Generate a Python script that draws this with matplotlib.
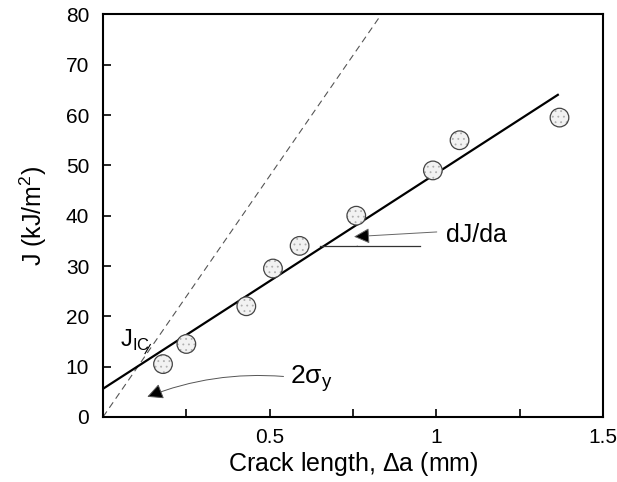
import numpy as np
import matplotlib
matplotlib.use('Agg')
import matplotlib.pyplot as plt
from matplotlib.patches import Arc

plt.rcParams['font.family'] = ['Liberation Sans', 'DejaVu Sans']
plt.rcParams['hatch.linewidth'] = 0.6

# measured J-R points
crack = [0.18, 0.25, 0.43, 0.51, 0.59, 0.76, 0.99, 1.07, 1.37]
J = [10.5, 14.5, 22.0, 29.5, 34.0, 40.0, 49.0, 55.0, 59.5]

# resistance curve fit and blunting line
fit_intercept = 5.6
fit_slope = 42.8
fit_end = 1.365
blunt_slope = 95.8

fig = plt.figure(figsize=(6.17, 4.82), dpi=100)
ax = fig.add_axes([0.167, 0.135, 0.81, 0.835])

xb = np.array([0, 80 / blunt_slope])
ax.plot(xb, blunt_slope * xb, color='#555555', lw=0.8, dashes=(6, 4))

xf = np.array([0, fit_end])
ax.plot(xf, fit_intercept + fit_slope * xf, '-', color='black', lw=1.6)

# stippled circles: light dotted fill, then a dark outline on top
ax.scatter(crack, J, s=180, facecolor='#f2f2f2', edgecolor='#b0b0b0',
           linewidth=0, hatch='...', zorder=3)
ax.scatter(crack, J, s=180, facecolor='none', edgecolor='#444444',
           linewidth=0.9, zorder=4)

# 2 sigma_y arc at the origin
ax.add_patch(Arc((0, 0), 0.22, 14.8, theta1=0, theta2=55, color='#444444', lw=0.7))
ax.annotate('', xy=(0.125, 3.8), xytext=(0.55, 8.0),
            arrowprops=dict(arrowstyle='-|>,head_length=0.6,head_width=0.3',
                            fc='black', ec='#555555', lw=0.7,
                            mutation_scale=16,
                            connectionstyle='arc3,rad=0.12'))
ax.text(0.56, 7.6, r'2$\mathregular{\sigma_y}$', fontsize=19, va='center', ha='left')

# J_IC label
ax.text(0.05, 15.2, r'J$_\mathregular{IC}$', fontsize=17, va='center', ha='left')
ax.plot([0.126, 0.142], [12.6, 14.4], color='black', lw=0.8)

# dJ/da slope marker
ax.plot([0.65, 0.95], [34.0, 34.0], color='#333333', lw=0.9)
ax.add_patch(Arc((0.663, 34.0), 0.2, 7.2, theta1=0, theta2=30, color='#333333', lw=0.7))
ax.annotate('', xy=(0.745, 35.8), xytext=(1.01, 36.8),
            arrowprops=dict(arrowstyle='-|>,head_length=0.6,head_width=0.3',
                            fc='black', ec='#666666', lw=0.7,
                            mutation_scale=16))
ax.text(1.03, 36.2, 'dJ/da', fontsize=18, va='center', ha='left')

ax.set_xlim(0, 1.5)
ax.set_ylim(0, 80)
ax.set_xticks([0.25, 0.5, 0.75, 1.0, 1.25, 1.5])
ax.set_xticklabels(['', '0.5', '', '1', '', '1.5'])
ax.set_yticks(range(0, 81, 10))
ax.tick_params(direction='in', length=6, width=1.2, labelsize=15)
ax.tick_params(axis='y', pad=10)
ax.tick_params(axis='x', pad=8)
for s in ax.spines.values():
    s.set_linewidth(1.5)

ax.set_xlabel(r'Crack length, $\mathregular{\Delta}$a (mm)', fontsize=18, labelpad=2)
ax.set_ylabel(r'J (kJ/m$^\mathregular{2}$)', fontsize=18, labelpad=12)

fig.savefig('out.png', dpi=100)
